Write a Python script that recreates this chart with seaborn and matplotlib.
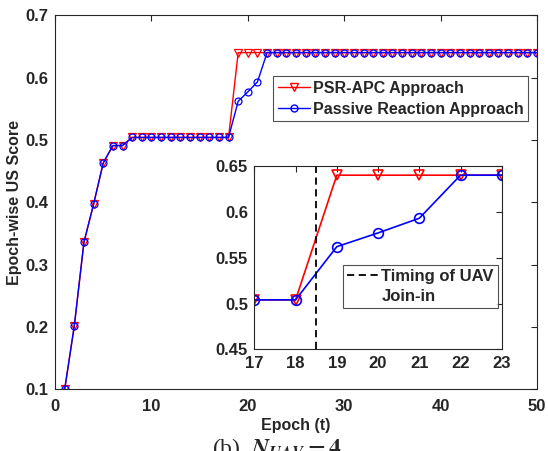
import numpy as np
import pandas as pd
import matplotlib
matplotlib.use("Agg")
import matplotlib.pyplot as plt
from matplotlib.lines import Line2D
import seaborn as sns

epochs = list(range(1, 51))
psr_apc = [0.100, 0.202, 0.336, 0.397, 0.463, 0.491, 0.491] + [0.504] * 11 + [0.640] * 32
passive = [0.100, 0.202, 0.336, 0.397, 0.463, 0.491, 0.491] + [0.504] * 11 + [0.562, 0.577, 0.593] + [0.640] * 29
series_names = ["PSR-APC Approach", "Passive Reaction Approach"]
join_in_epoch = 18.5
main_xticks = [0, 10, 20, 30, 40, 50]
main_yticks = [0.1, 0.2, 0.3, 0.4, 0.5, 0.6, 0.7]
inset_xticks = [17, 18, 19, 20, 21, 22, 23]
inset_yticks = [0.45, 0.5, 0.55, 0.6, 0.65]

sns.set_theme(style="white")
plt.rcParams["font.family"] = ["Liberation Sans", "DejaVu Sans"]
plt.rcParams["font.weight"] = "bold"
plt.rcParams["mathtext.fontset"] = "stix"

df = pd.DataFrame({"epoch": epochs, "psr": psr_apc, "passive": passive})

fig = plt.figure(figsize=(5.48, 4.51), dpi=100)
ax = fig.add_axes([0.1004, 0.1364, 0.8796, 0.830])

axcol = "0.15"

def style_axes(a, fs, xpad, ypad):
    for s in a.spines.values():
        s.set_color(axcol)
        s.set_linewidth(0.8)
    a.tick_params(direction="in", top=True, right=True, length=4, width=0.8,
                  colors=axcol, labelsize=fs)
    a.tick_params(axis="x", pad=xpad)
    a.tick_params(axis="y", pad=ypad)
    for lab in a.get_xticklabels() + a.get_yticklabels():
        lab.set_fontweight("bold")
        lab.set_color("0.15")

sns.lineplot(data=df, x="epoch", y="psr", ax=ax, color="red", lw=1,
             marker="v", markersize=5.5, mfc="none", mec="red", mew=0.9)
sns.lineplot(data=df, x="epoch", y="passive", ax=ax, color="blue", lw=1,
             marker="o", markersize=5, mfc="none", mec="blue", mew=0.9)
ax.set_xlim(0, 50)
ax.set_ylim(0.1, 0.7)
ax.set_xticks(main_xticks)
ax.set_yticks(main_yticks)
ax.set_xticklabels([str(v) for v in main_xticks])
ax.set_yticklabels([f"{v:g}" for v in main_yticks])
ax.set_xlabel("Epoch (t)", fontsize=11.5, fontweight="bold", labelpad=3)
ax.set_ylabel("Epoch-wise US Score", fontsize=11.5, fontweight="bold", labelpad=3)
style_axes(ax, 12, 7, 4.5)

handles = [
    Line2D([], [], color="red", lw=1, marker="v", markersize=5.5, mfc="none", mec="red"),
    Line2D([], [], color="blue", lw=1, marker="o", markersize=5, mfc="none", mec="blue"),
]
leg = ax.legend(handles, series_names, loc="upper left",
                bbox_to_anchor=(0.452, 0.837), prop={"weight": "bold", "size": 11.5},
                frameon=True, fancybox=False, edgecolor="0.15", borderpad=0.3,
                handlelength=2.0, handletextpad=0.2, labelspacing=0.35, borderaxespad=0)
leg.get_frame().set_linewidth(0.8)

# Inset
ins = fig.add_axes([0.4641, 0.2254, 0.4515, 0.4065])
sub = df[(df["epoch"] >= 17) & (df["epoch"] <= 23)]
sns.lineplot(data=sub, x="epoch", y="psr", ax=ins, color="red", lw=1.2,
             marker="v", markersize=7, mfc="none", mec="red", mew=1.2)
sns.lineplot(data=sub, x="epoch", y="passive", ax=ins, color="blue", lw=1.2,
             marker="o", markersize=7, mfc="none", mec="blue", mew=1.2)
ins.axvline(join_in_epoch, color="black", ls="--", lw=1.3, dashes=(4, 2.5))
ins.set_xlim(17, 23)
ins.set_ylim(0.45, 0.65)
ins.set_xticks(inset_xticks)
ins.set_yticks(inset_yticks)
ins.set_xticklabels([str(v) for v in inset_xticks])
ins.set_yticklabels([f"{v:g}" for v in inset_yticks])
ins.set_xlabel("")
ins.set_ylabel("")
style_axes(ins, 12, 5, 4.5)
ins.set_facecolor("white")

leg2 = ins.legend([Line2D([], [], color="black", ls="--", lw=1.3, dashes=(4, 2.5)),
                   Line2D([], [], color="none", lw=0)],
                  ["Timing of UAV", "Join-in"], loc="upper left",
                  bbox_to_anchor=(0.3585, 0.46), prop={"weight": "bold", "size": 12},
                  frameon=True, fancybox=False, edgecolor="0.15", borderpad=0.25,
                  handlelength=1.9, handletextpad=0.15, labelspacing=0.3, borderaxespad=0)
leg2.get_frame().set_linewidth(0.8)

fig.text(0.506, 0.034, r"(b)  $N_{UAV} = 4$", ha="center", va="top",
         fontsize=17, family=["Liberation Serif"], fontweight="normal")

fig.savefig("out.png", dpi=100)
